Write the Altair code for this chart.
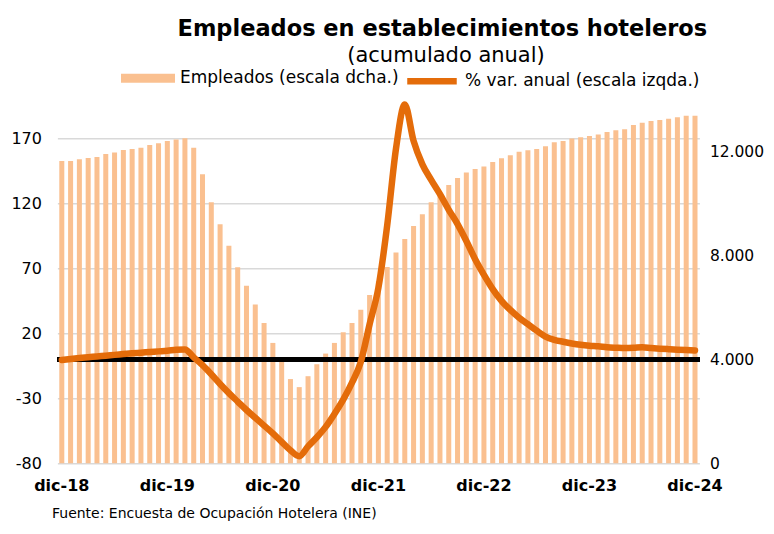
import altair as alt
import pandas as pd

meses = ["ene", "feb", "mar", "abr", "may", "jun", "jul", "ago", "sep", "oct", "nov", "dic"]
periodos = ["dic-18"] + [f"{m}-{a}" for a in range(19, 25) for m in meses]
etiquetas_x = ["dic-18", "dic-19", "dic-20", "dic-21", "dic-22", "dic-23", "dic-24"]

empleados = [11630, 11630, 11690, 11740, 11780, 11900, 11950, 12050, 12090, 12140, 12240, 12310,
             12400, 12450, 12500, 12140, 11120, 10040, 9190, 8370, 7540, 6830, 6110, 5400,
             4630, 3910, 3240, 2930, 3350, 3810, 4220, 4630, 5040, 5400, 5910, 6470,
             7000, 7550, 8110, 8630, 9130, 9580, 10040, 10400, 10700, 10970, 11180, 11320,
             11420, 11590, 11730, 11850, 11980, 12040, 12090, 12190, 12350, 12400, 12490, 12540,
             12590, 12650, 12740, 12810, 12850, 13010, 13100, 13170, 13200, 13250, 13310, 13370,
             13370]

var_anual = [-0.5, 0.3, 1.0, 1.6, 2.2, 2.8, 3.4, 4.0, 4.6, 5.1, 5.6, 6.1,
             6.6, 7.3, 7.6, 1.5, -4.5, -11.5, -19, -26, -32.5, -39, -45, -51,
             -57, -63.5, -70, -74.5, -67, -60, -52, -42, -31, -18, -2, 27,
             55, 103, 162, 196, 168, 150, 138, 127, 115, 104, 91, 77,
             65, 54, 45, 38, 32, 27, 22, 17.5, 15, 13.5, 12.2, 11.2,
             10.5, 10.0, 9.3, 8.9, 8.6, 8.8, 9.3, 8.7, 8.2, 7.8, 7.4, 7.1,
             6.8]

ticks_izq = [-80, -30, 20, 70, 120, 170]
ticks_dcha = [0, 4000, 8000, 12000]

serie_barras = "Empleados (escala dcha.)"
serie_linea = "% var. anual (escala izqda.)"
titulo = "Empleados en establecimientos hoteleros"
subtitulo = "(acumulado anual)"
fuente = "Fuente: Encuesta de Ocupación Hotelera (INE)"

df = pd.DataFrame({
    "mes": periodos,
    "empleados": empleados,
    "var": var_anual,
    "sb": [serie_barras] * len(periodos),
    "sl": [serie_linea] * len(periodos),
})

FONT = "DejaVu Sans"
W, H = 642, 364

x_enc = alt.X(
    "mes:N", sort=periodos,
    scale=alt.Scale(paddingInner=0.43, paddingOuter=0.215),
    axis=alt.Axis(values=etiquetas_x, title=None, labelAngle=0, labelFontWeight="bold",
                  labelPadding=14, grid=False),
)

bars = alt.Chart(df).mark_bar().encode(
    x=x_enc,
    y=alt.Y("empleados:Q", scale=alt.Scale(domain=[0, 14000], nice=False),
            axis=alt.Axis(orient="right", values=ticks_dcha, grid=False, title=None,
                          labelPadding=10, labelFontSize=15.5,
                          labelExpr="replace(format(datum.value, ',d'), ',', '.')")),
    fill=alt.Fill("sb:N", scale=alt.Scale(range=["#FAC090"]),
                  legend=alt.Legend(title=None, orient="none", legendX=63.6, legendY=-48,
                                    symbolType="M-1,-0.167L1,-0.167L1,0.167L-1,0.167Z",
                                    symbolSize=2916, symbolStrokeWidth=0, labelOffset=5,
                                    labelLimit=400)),
)

y_izq = alt.Y("var:Q", scale=alt.Scale(domain=[-80, 200], nice=False),
              axis=alt.Axis(orient="left", values=ticks_izq, grid=True, title=None,
                            labelPadding=16,
                            labelExpr="datum.value < 0 ? '-' + abs(datum.value) : '' + datum.value"))

line = alt.Chart(df).mark_line(strokeWidth=6.5, interpolate="monotone",
                               strokeCap="round", strokeJoin="round").encode(
    x=x_enc,
    y=y_izq,
    stroke=alt.Stroke("sl:N", scale=alt.Scale(range=["#E46C0A"]),
                      legend=alt.Legend(title=None, orient="none", legendX=346.6, legendY=-46,
                                        symbolType="stroke", symbolSize=2450,
                                        symbolStrokeWidth=6.5, labelOffset=5,
                                        labelLimit=400)),
)

rule = alt.Chart(df).mark_rule(color="black", strokeWidth=4).encode(y=alt.datum(0))

textos = pd.DataFrame({"t": [titulo, subtitulo, fuente]})

tit = alt.Chart(textos).transform_filter(alt.datum.t == titulo).mark_text(
    align="center", baseline="alphabetic", font=FONT, fontSize=22.5, fontWeight="bold",
    color="black"
).encode(text="t:N", x=alt.value(385), y=alt.value(-63.3))

subtit = alt.Chart(textos).transform_filter(alt.datum.t == subtitulo).mark_text(
    align="center", baseline="alphabetic", font=FONT, fontSize=21, color="black"
).encode(text="t:N", x=alt.value(388.6), y=alt.value(-37.3))

nota = alt.Chart(textos).transform_filter(alt.datum.t == fuente).mark_text(
    align="left", baseline="alphabetic", font=FONT, fontSize=14, color="black"
).encode(text="t:N", x=alt.value(-5.4), y=alt.value(419.2))

chart = alt.layer(
    bars, alt.layer(rule, line), tit, subtit, nota
).resolve_scale(y="independent").properties(
    width=W, height=H,
    autosize=alt.AutoSizeParams(type="none"),
    padding={"left": 49.4, "top": 91.3, "right": 66, "bottom": 58.5},
).configure_view(stroke=None).configure_axis(
    labelFont=FONT, labelFontSize=16, labelColor="black", domain=False, ticks=False,
    gridColor="#D9D9D9", gridWidth=1.5,
).configure_legend(
    labelFont=FONT, labelFontSize=17, labelColor="black",
)

chart.save("out.html", embed_options={"renderer": "svg", "actions": False})
